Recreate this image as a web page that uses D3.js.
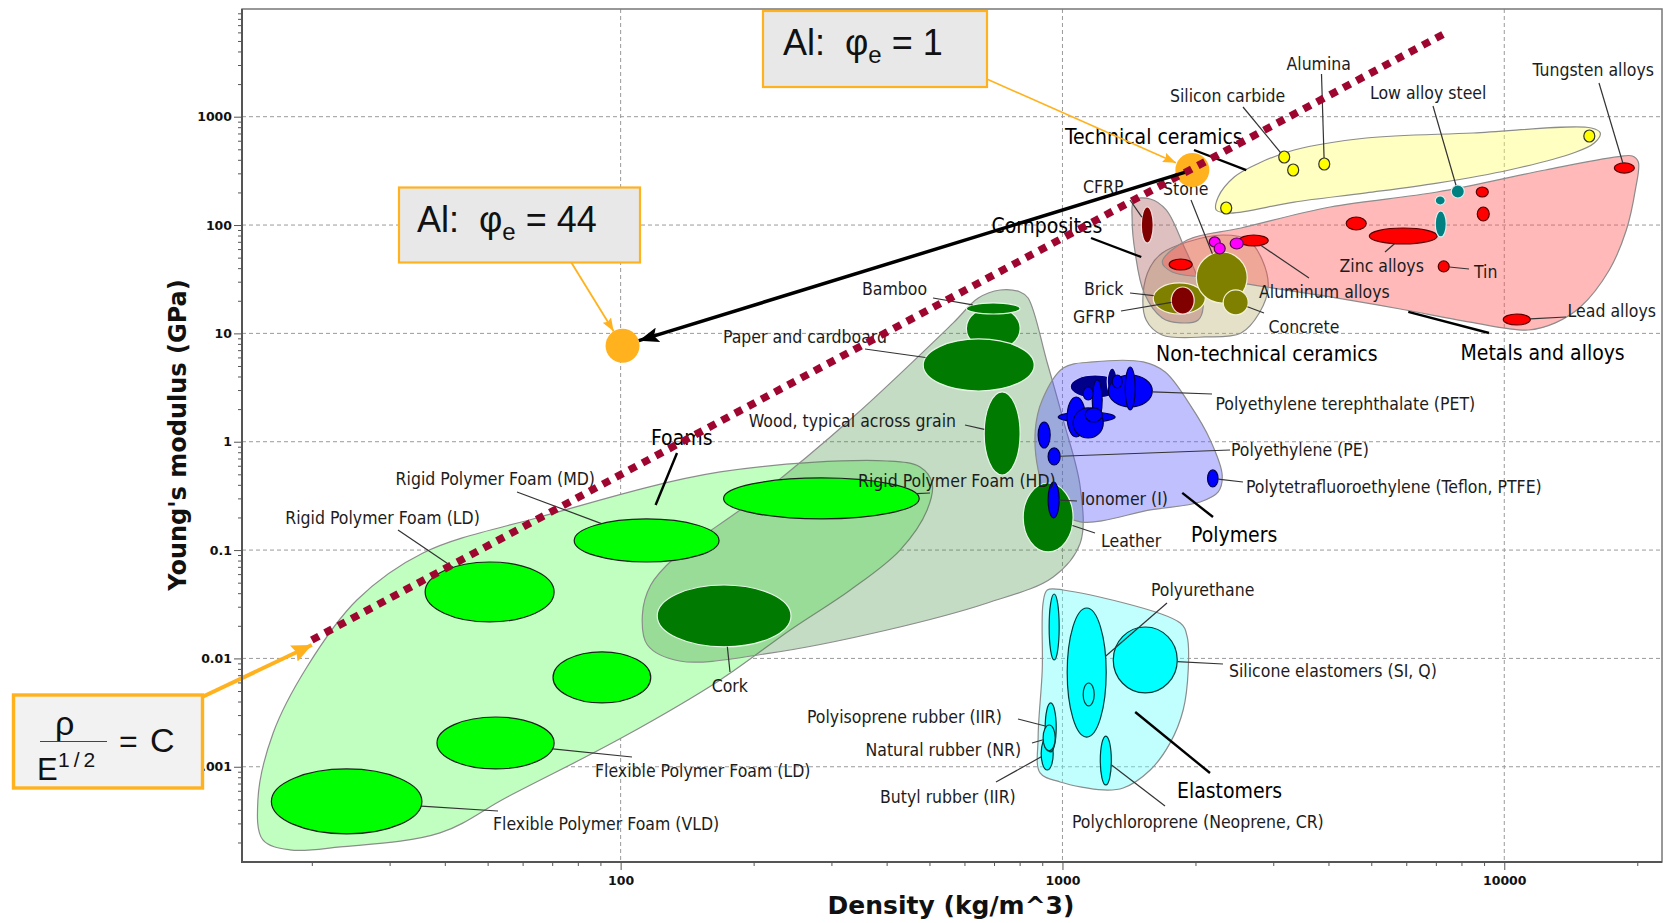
<!DOCTYPE html>
<html>
<head>
<meta charset="utf-8">
<script src="https://cdn.jsdelivr.net/npm/d3@7"></script>
<style>
  body { margin: 0; background: #fff; }
  svg text { white-space: pre; }
</style>
</head>
<body>
<svg id="chart" width="1663" height="923"></svg>
<script>
// ---- axes ----
const xTicks = [100, 1000, 10000];
const xTickLabels = ["100", "1000", "10000"];
const yTicks = [0.001, 0.01, 0.1, 1, 10, 100, 1000];
const yTickLabels = ["0.001", "0.01", "0.1", "1", "10", "100", "1000"];

// ---- property bubbles: density range (kg/m^3), modulus range (GPa) ----
const foams = [
  { name: "Flexible Polymer Foam (VLD)", rho: [16.2, 35.5], E: [2.40e-4, 9.54e-4] },
  { name: "Flexible Polymer Foam (LD)", rho: [38.4, 70.7], E: [9.54e-4, 2.88e-3] },
  { name: "Flexible Polymer Foam (MD)", rho: [70.3, 117], E: [3.88e-3, 0.0115] },
  { name: "Rigid Polymer Foam (LD)", rho: [36.1, 70.7], E: [0.0217, 0.0776] },
  { name: "Rigid Polymer Foam (MD)", rho: [78.5, 167], E: [0.0776, 0.194] },
  { name: "Rigid Polymer Foam (HD)", rho: [171, 474], E: [0.194, 0.463] }
];
const naturals = [
  { name: "Bamboo stem", rho: [606, 802], E: [7.03, 17.5] },
  { name: "Bamboo", rho: [606, 802], E: [15.1, 19.1] },
  { name: "Paper and cardboard", rho: [484, 863], E: [2.94, 8.88] },
  { name: "Wood, typical across grain", rho: [665, 802], E: [0.493, 2.88] },
  { name: "Leather", rho: [815, 1057], E: [0.0961, 0.416] },
  { name: "Cork", rho: [121, 243], E: [0.0128, 0.0476] }
];
const polymers = [
  { name: "Polymer k", rho: [978, 1316], E: [1.52, 1.88] },
  { name: "Polymer a", rho: [1041, 1351], E: [2.53, 4.13] },
  { name: "Polymer d", rho: [1263, 1330], E: [2.70, 4.79] },
  { name: "Polymer h", rho: [1025, 1126], E: [1.106, 2.588] },
  { name: "Polymer i", rho: [1057, 1237], E: [1.083, 2.049] },
  { name: "Polymer g", rho: [1168, 1230], E: [1.588, 3.715] },
  { name: "Polymer f", rho: [1114, 1174], E: [2.428, 3.201] },
  { name: "Polymer j", rho: [1126, 1230], E: [1.521, 2.049] },
  { name: "Polyethylene terephthalate (PET)", rho: [1270, 1597], E: [2.093, 4.131] },
  { name: "Polymer c", rho: [1387, 1461], E: [1.963, 4.896] },
  { name: "Polymer e", rho: [1296, 1365], E: [3.134, 4.131] },
  { name: "Polymer l", rho: [881, 938], E: [0.876, 1.52] },
  { name: "Polyethylene (PE)", rho: [928, 988], E: [0.610, 0.876] },
  { name: "Ionomer (I)", rho: [928, 983], E: [0.198, 0.425] },
  { name: "Polytetrafluoroethylene (Teflon, PTFE)", rho: [2130, 2250], E: [0.382, 0.549] }
];
const darkPolymers = ["Polymer a", "Polymer d"];
const elastomers = [
  { name: "Elastomer a", rho: [933, 983], E: [0.00968, 0.0393] },
  { name: "Polyurethane", rho: [1025, 1256], E: [0.00188, 0.0292] },
  { name: "Elastomer b", rho: [1114, 1180], E: [0.00364, 0.00593] },
  { name: "Silicone elastomers (SI, Q)", rho: [1303, 1819], E: [0.00480, 0.0195] },
  { name: "Butyl rubber (IIR)", rho: [895, 953], E: [0.000934, 0.00188] },
  { name: "Polyisoprene rubber (IIR)", rho: [914, 968], E: [0.00137, 0.00388] },
  { name: "Natural rubber (NR)", rho: [904, 963], E: [0.00140, 0.00243] },
  { name: "Polychloroprene (Neoprene, CR)", rho: [1218, 1290], E: [0.000679, 0.00192] }
];
const nonTechCeramics = [
  { name: "Brick", rho: [1605, 2105], E: [15.1, 29.2] },
  { name: "Stone", rho: [2009, 2619], E: [19.08, 56.4] },
  { name: "Concrete", rho: [2311, 2633], E: [14.8, 25.2] }
];
const composites = [
  { name: "GFRP", rho: [1763, 1987], E: [15.1, 26.8] },
  { name: "CFRP", rho: [1508, 1605], E: [68.3, 146.7] }
];
const metals = [
  { name: "Magnesium alloys", rho: [1744, 1966], E: [38.5, 48.6] },
  { name: "Aluminum alloys", rho: [2512, 2922], E: [64.1, 80.9] },
  { name: "Titanium alloys", rho: [4387, 4871], E: [90.0, 118.6] },
  { name: "Zinc alloys", rho: [4948, 7051], E: [66.9, 93.9] },
  { name: "Tin", rho: [7088, 7506], E: [36.9, 46.6] },
  { name: "Nickel alloys", rho: [8642, 9200], E: [181.5, 224.5] },
  { name: "Copper alloys", rho: [8687, 9247], E: [109, 146.7] },
  { name: "Lead alloys", rho: [9947, 11454], E: [11.95, 15.1] },
  { name: "Tungsten alloys", rho: [17742, 19697], E: [302, 374] }
];
const steels = [
  { name: "Low alloy steel", rho: [7586, 8121], E: [177.7, 234.2] },
  { name: "Cast iron, ductile", rho: [6978, 7350], E: [153.1, 185.4] },
  { name: "Cast iron, gray", rho: [6978, 7390], E: [77.6, 134.8] }
];
const glasses = [
  { name: "Silica glass", rho: [2149, 2275], E: [62.7, 77.6] },
  { name: "Borosilicate glass", rho: [2205, 2335], E: [54.1, 68.3] },
  { name: "Soda-lime glass", rho: [2397, 2566], E: [60.1, 75.9] }
];
const techCeramics = [
  { name: "Silicon", rho: [2281, 2416], E: [126.5, 163.2] },
  { name: "Silicon carbide", rho: [3087, 3268], E: [373.9, 482.4] },
  { name: "Aluminum nitride", rho: [3234, 3425], E: [283.6, 366.0] },
  { name: "Alumina", rho: [3803, 4027], E: [322.2, 415.7] },
  { name: "Tungsten carbides", rho: [15136, 16029], E: [584.1, 753.9] }
];

// ---- family envelopes [density, modulus] ----
const foamEnvelope = [[15.5, 2.11e-4], [15.1, 4.94e-4], [16.35, 2.05e-3], [19.5, 8.34e-3], [25.3, 0.0346], [35.7, 0.094], [65.7, 0.202], [168, 0.526], [401, 0.664], [476, 0.585], [507, 0.416], [494, 0.2345], [429, 0.1], [331, 0.0428], [242, 0.0183], [168, 0.00633], [101.3, 0.00188], [55.4, 5.26e-4], [39.0, 2.45e-4], [23.2, 1.82e-4], [17.85, 1.71e-4]];
const naturalEnvelope = [[723, 25.15], [802, 24.1], [836, 21.2], [924, 5.33], [1004, 1.59], [1097, 0.382], [1097, 0.116], [953, 0.0565], [676, 0.0325], [401, 0.0183], [218, 0.0112], [136, 0.00947], [115, 0.0133], [112, 0.0252], [117, 0.0476], [133, 0.0864], [200, 0.290], [336, 1.69], [566, 12.5], [645, 21.2]];
const polymerEnvelope = [[1004, 4.79], [1174, 5.45], [1523, 5.45], [1708, 4.40], [1946, 2.18], [2160, 1.04], [2299, 0.493], [2252, 0.344], [2050, 0.278], [1580, 0.2345], [1097, 0.182], [938, 0.261], [881, 0.549], [868, 1.28], [900, 2.43]];
const elastomerEnvelope = [[924, 0.0428], [1004, 0.0428], [1848, 0.0212], [1916, 0.0158], [1926, 0.00782], [1876, 0.00334], [1753, 0.00166], [1580, 0.000934], [1372, 0.000637], [1237, 0.000611], [988, 0.000724], [890, 0.000877], [881, 0.00188], [900, 0.00782], [904, 0.0325]];
const nonTechEnvelope = [[1682, 55.2], [1916, 69.8], [2311, 80.9], [2633, 72.8], [2833, 47.6], [2922, 26.8], [2789, 15.4], [2538, 10.1], [2105, 9.27], [1682, 9.67], [1547, 13.3], [1523, 23.6], [1580, 41.0]];
const compositeEnvelope = [[1453, 170], [1580, 174], [1717, 138], [1886, 62.7], [2029, 31.1], [2082, 17.5], [2029, 13.3], [1848, 12.5], [1682, 13.9], [1531, 23.6], [1461, 55.2], [1438, 111]];
const metalEnvelope = [[1682, 45.6], [1916, 72.8], [2538, 93.9], [4037, 146.7], [7051, 201.8], [12381, 322], [17926, 425], [19494, 434], [20109, 382], [19798, 211], [18892, 90], [17285, 38.5], [14863, 17.5], [13046, 12.5], [11333, 10.75], [8375, 12.7], [5815, 16.8], [4037, 21.7], [2891, 26.8], [2160, 32.5], [1772, 36.9]];
const techEnvelope = [[2229, 137.7], [2252, 181.5], [2448, 277.6], [2789, 373.9], [3346, 492.8], [4871, 636], [8508, 707], [15736, 787], [16492, 707], [15985, 572], [14327, 462], [10264, 322], [7051, 244], [4871, 198], [3346, 163], [2397, 129]];

// ---- annotation values ----
const aluminiumPoints = [[1968, 322], [101, 7.70]];   // phi_e = 1, phi_e = 44
const guideLine = [[20.0, 0.0148], [7460, 6088]];     // rho / E^(1/2) = C
const groupTargets = [
  ["Technical ceramics", 2606, 322],
  ["Composites", 1508, 50.7],
  ["Metals and alloys", 6064, 15.8],
  ["Foams", 120, 0.261],
  ["Polymers", 1867, 0.337],
  ["Elastomers", 1461, 0.0032]
];

// ---- label layout (text left, text middle, leader start) ----
const materialLayout = [
  ["Alumina", 1286.5, 63.6, 1321.5, 74],
  ["Silicon carbide", 1170, 95.5, 1243, 107],
  ["Low alloy steel", 1370, 93, 1433, 106],
  ["Tungsten alloys", 1532.5, 70, 1599, 83],
  ["CFRP", 1083, 186.7, 1130, 200],
  ["Stone", 1163, 189, 1191, 200],
  ["Zinc alloys", 1339.5, 266, 1385, 252],
  ["Tin", 1474, 271.5, 1469, 269],
  ["Aluminum alloys", 1259, 291.7, 1309, 278],
  ["Brick", 1084, 288.5, 1130, 293],
  ["GFRP", 1073, 317, 1121, 311],
  ["Concrete", 1268.5, 326.7, 1264, 313],
  ["Lead alloys", 1567.6, 310.8, 1566, 317],
  ["Bamboo", 862, 288.5, 933, 298],
  ["Paper and cardboard", 723, 337, 865, 349],
  ["Wood, typical across grain", 748.8, 421, 965, 425],
  ["Polyethylene terephthalate (PET)", 1215.5, 404, 1212, 394],
  ["Polyethylene (PE)", 1231, 449.7, 1230, 450],
  ["Polytetrafluoroethylene (Teflon, PTFE)", 1246, 486.8, 1243, 482],
  ["Ionomer (I)", 1080.7, 498.5, 1077, 501],
  ["Leather", 1101, 541, 1095, 533],
  ["Rigid Polymer Foam (HD)", 858, 480.4, 930, 493],
  ["Rigid Polymer Foam (MD)", 395.6, 478.3, 517, 492],
  ["Rigid Polymer Foam (LD)", 285.3, 517.6, 398, 530],
  ["Flexible Polymer Foam (LD)", 595, 771, 632, 757],
  ["Flexible Polymer Foam (VLD)", 493, 824, 498, 811],
  ["Cork", 711.7, 686, 730, 672],
  ["Polyurethane", 1151, 589.7, 1167, 603],
  ["Silicone elastomers (SI, Q)", 1229, 670.3, 1223, 664],
  ["Polyisoprene rubber (IIR)", 807, 717, 1018, 719],
  ["Natural rubber (NR)", 865.5, 750, 1032, 743],
  ["Butyl rubber (IIR)", 880, 796.5, 996, 782],
  ["Polychloroprene (Neoprene, CR)", 1072, 822, 1165, 806]
];
const groupLayout = [
  ["Technical ceramics", 1065, 136, 1194, 150],
  ["Composites", 991.6, 225, 1091, 238],
  ["Non-technical ceramics", 1156, 353],
  ["Metals and alloys", 1460.5, 352, 1489, 333],
  ["Foams", 651, 437, 677, 453],
  ["Polymers", 1191, 534.5, 1213, 517],
  ["Elastomers", 1177, 790, 1210, 773]
];

// ================= drawing =================
const svg = d3.select("#chart");
const plot = { left: 242, right: 1662, top: 9, bottom: 862 };
const x = d3.scaleLog().domain([13.9, 22750]).range([plot.left, plot.right]);
const y = d3.scaleLog().domain([1.321e-4, 9863]).range([plot.bottom, plot.top]);
const labelFont = '"DejaVu Sans Condensed","DejaVu Sans",sans-serif';
const orange = "#ffb21e";

const defs = svg.append("defs");
defs.append("clipPath").attr("id", "plotClip").append("rect")
  .attr("x", plot.left).attr("y", plot.top)
  .attr("width", plot.right - plot.left).attr("height", plot.bottom - plot.top);

function marker(id, w, h, color, notch) {
  defs.append("marker").attr("id", id)
    .attr("viewBox", `0 0 ${w} ${h}`).attr("refX", w).attr("refY", h / 2)
    .attr("markerWidth", w).attr("markerHeight", h)
    .attr("markerUnits", "userSpaceOnUse").attr("orient", "auto")
    .append("path")
    .attr("d", `M0,0L${w},${h / 2}L0,${h}L${notch},${h / 2}Z`)
    .attr("fill", color);
}
marker("ahBlack", 20, 15, "#000", 4);
marker("ahOrange", 13, 10, orange, 2);
marker("ahOrangeBig", 20, 18, orange, 3);

// grid
const grid = svg.append("g").attr("stroke", "#9a9a9a").attr("stroke-width", 1).attr("stroke-dasharray", "4,3");
grid.selectAll(null).data(xTicks).join("line")
  .attr("x1", d => x(d)).attr("x2", d => x(d)).attr("y1", plot.top).attr("y2", plot.bottom);
grid.selectAll(null).data(yTicks).join("line")
  .attr("y1", d => y(d)).attr("y2", d => y(d)).attr("x1", plot.left).attr("x2", plot.right);

// envelopes
const envLine = d3.line().x(d => x(d[0])).y(d => y(d[1])).curve(d3.curveCatmullRomClosed.alpha(0.5));
const plotG = svg.append("g").attr("clip-path", "url(#plotClip)");
const envelopes = [
  [foamEnvelope, "#c0ffc0", 1],
  [naturalEnvelope, "#3c8c3c", 0.3],
  [polymerEnvelope, "#5a5aff", 0.38],
  [elastomerEnvelope, "#64ffff", 0.4],
  [nonTechEnvelope, "#b4aa64", 0.35],
  [compositeEnvelope, "#aa5a5a", 0.38],
  [metalEnvelope, "#ff5050", 0.4],
  [techEnvelope, "#ffff64", 0.4]
];
envelopes.forEach(([pts, fill, op]) => {
  plotG.append("path").attr("d", envLine(pts))
    .attr("fill", fill).attr("fill-opacity", op)
    .attr("stroke", "#8c8c8c").attr("stroke-width", 1.2);
});

// ellipses
function geom(d) {
  const x0 = x(d.rho[0]), x1 = x(d.rho[1]), y0 = y(d.E[1]), y1 = y(d.E[0]);
  return { cx: (x0 + x1) / 2, cy: (y0 + y1) / 2, rx: (x1 - x0) / 2, ry: (y1 - y0) / 2 };
}
function bubbles(list, fill, stroke) {
  plotG.append("g").selectAll("ellipse").data(list).join("ellipse")
    .attr("cx", d => geom(d).cx).attr("cy", d => geom(d).cy)
    .attr("rx", d => geom(d).rx).attr("ry", d => geom(d).ry)
    .attr("fill", typeof fill === "function" ? fill : () => fill)
    .attr("stroke", typeof stroke === "function" ? stroke : () => stroke)
    .attr("stroke-width", 1.2);
}
bubbles(foams, "#00ff00", "#1e1e1e");
bubbles(naturals, "#007a00", "#e6f5e6");
bubbles(polymers, d => darkPolymers.includes(d.name) ? "#00008b" : "#0000ff",
  d => darkPolymers.includes(d.name) ? "#d0d0ff" : "#00004a");
bubbles(elastomers, "#00ffff", "#003a3a");
bubbles(nonTechCeramics, "#808000", "#f2f2d8");
bubbles(composites, "#800000", "#f2dede");
bubbles(metals, "#ff0000", "#5a0000");
bubbles(steels, "#008080", "#d8f0f0");
bubbles(glasses, "#ff00ff", "#5a005a");
bubbles(techCeramics, "#ffff00", "#333333");

const byName = new Map();
[foams, naturals, polymers, elastomers, nonTechCeramics, composites, metals, steels, glasses, techCeramics]
  .forEach(list => list.forEach(d => byName.set(d.name, d)));

function edgePoint(d, px, py) {
  const g = geom(d);
  const dx = px - g.cx, dy = py - g.cy;
  const t = 1 / Math.sqrt((dx / g.rx) ** 2 + (dy / g.ry) ** 2);
  return [g.cx + dx * t, g.cy + dy * t];
}

// leader lines + labels
const leaders = svg.append("g").attr("stroke", "#333").attr("stroke-width", 1.2);
materialLayout.forEach(([name, , , lx, ly]) => {
  const [ex, ey] = edgePoint(byName.get(name), lx, ly);
  leaders.append("line").attr("x1", lx).attr("y1", ly).attr("x2", ex).attr("y2", ey);
});
const groupLeaders = svg.append("g").attr("stroke", "#000").attr("stroke-width", 2.4);
groupTargets.forEach(([name, rho, E]) => {
  const lay = groupLayout.find(g => g[0] === name);
  groupLeaders.append("line").attr("x1", lay[3]).attr("y1", lay[4])
    .attr("x2", x(rho)).attr("y2", y(E));
});

const labels = svg.append("g").attr("font-family", labelFont).style("font-stretch", "condensed");
labels.selectAll(null).data(materialLayout).join("text")
  .attr("x", d => d[1]).attr("y", d => d[2] + 6.3)
  .attr("font-size", 17.5).attr("fill", "#1c1c1c")
  .text(d => d[0]);
labels.selectAll(null).data(groupLayout).join("text")
  .attr("x", d => d[1]).attr("y", d => d[2] + 7.6)
  .attr("font-size", 21).attr("fill", "#000")
  .text(d => d[0]);

// aluminium points
svg.append("g").selectAll("circle").data(aluminiumPoints).join("circle")
  .attr("cx", d => x(d[0])).attr("cy", d => y(d[1])).attr("r", 17)
  .attr("fill", orange);

// guide line rho/E^0.5 = C
svg.append("line")
  .attr("x1", x(guideLine[0][0])).attr("y1", y(guideLine[0][1]))
  .attr("x2", x(guideLine[1][0])).attr("y2", y(guideLine[1][1]))
  .attr("stroke", "#9e0630").attr("stroke-width", 7.5).attr("stroke-dasharray", "8,7");

// black arrow from phi=1 to phi=44
const p1 = [x(aluminiumPoints[0][0]), y(aluminiumPoints[0][1])];
const p2 = [x(aluminiumPoints[1][0]), y(aluminiumPoints[1][1])];
{
  const dx = p1[0] - p2[0], dy = p1[1] - p2[1], L = Math.hypot(dx, dy);
  svg.append("line").attr("x1", p1[0] - 8 * dx / L).attr("y1", p1[1] - 8 * dy / L)
    .attr("x2", p2[0] + 17 * dx / L).attr("y2", p2[1] + 17 * dy / L)
    .attr("stroke", "#000").attr("stroke-width", 3.5).attr("marker-end", "url(#ahBlack)");
}

// annotation boxes
function orangeLeader(sx, sy, tx, ty, r, w, m) {
  const dx = tx - sx, dy = ty - sy, L = Math.hypot(dx, dy);
  svg.append("line").attr("x1", sx).attr("y1", sy)
    .attr("x2", tx - r * dx / L).attr("y2", ty - r * dy / L)
    .attr("stroke", orange).attr("stroke-width", w).attr("marker-end", `url(#${m})`);
}
orangeLeader(980, 76, p1[0], p1[1], 18, 1.6, "ahOrange");
orangeLeader(571, 262, p2[0], p2[1], 17, 1.8, "ahOrange");
orangeLeader(200, 698, x(guideLine[0][0]), y(guideLine[0][1]) + 5, 0, 4, "ahOrangeBig");

function phiBox(bx, by, bw, bh, tx, ty, value) {
  svg.append("rect").attr("x", bx).attr("y", by).attr("width", bw).attr("height", bh)
    .attr("fill", "#e8e8e8").attr("stroke", orange).attr("stroke-width", 2.2);
  const t = svg.append("text").attr("x", tx).attr("y", ty)
    .attr("font-family", '"Liberation Sans", Arial, sans-serif').attr("font-size", 36).attr("fill", "#111");
  t.append("tspan").text("Al:  \u03c6");
  t.append("tspan").attr("dy", 8).attr("font-size", 24).text("e");
  t.append("tspan").attr("dy", -8).text(" = " + value);
}
phiBox(763, 11, 224, 76, 783, 55, "1");
phiBox(399, 187.5, 241, 75, 417, 231.7, "44");

// axes
const yMinor = [], xMinor = [];
for (let p = -4; p <= 3; p++) for (let k = 2; k <= 9; k++) {
  const v = k * Math.pow(10, p);
  if (v > y.domain()[0] && v < y.domain()[1]) yMinor.push(v);
}
for (let p = 1; p <= 4; p++) for (let k = 2; k <= 9; k++) {
  const v = k * Math.pow(10, p);
  if (v > x.domain()[0] && v < x.domain()[1]) xMinor.push(v);
}
const tickFont = g => g.selectAll("text").attr("font-family", '"DejaVu Sans", sans-serif')
  .attr("font-weight", "bold").attr("font-size", 12.5).attr("fill", "#111");
const tickStroke = g => { g.selectAll("line").attr("stroke", "#555"); g.select(".domain").remove(); };

svg.append("g").attr("transform", `translate(${plot.left},0)`)
  .call(d3.axisLeft(y).tickValues(yMinor).tickSize(4).tickSizeOuter(0).tickFormat(""))
  .call(tickStroke);
svg.append("g").attr("transform", `translate(${plot.left},0)`)
  .call(d3.axisLeft(y).tickValues(yTicks).tickSize(8).tickSizeOuter(0).tickPadding(2)
    .tickFormat((d, i) => yTickLabels[i]))
  .call(tickStroke).call(tickFont);
svg.append("g").attr("transform", `translate(0,${plot.bottom})`)
  .call(d3.axisBottom(x).tickValues(xMinor).tickSize(4).tickSizeOuter(0).tickFormat(""))
  .call(tickStroke);
svg.append("g").attr("transform", `translate(0,${plot.bottom})`)
  .call(d3.axisBottom(x).tickValues(xTicks).tickSize(8).tickSizeOuter(0).tickPadding(6)
    .tickFormat((d, i) => xTickLabels[i]))
  .call(tickStroke).call(tickFont);

// formula box, drawn over the partly hidden "0.001" label as in the original
svg.append("rect").attr("x", 13.5).attr("y", 695).attr("width", 189).attr("height", 93)
  .attr("fill", "#f2f2f2").attr("stroke", orange).attr("stroke-width", 3.4);
const fg = svg.append("g").attr("font-family", '"Liberation Sans", Arial, sans-serif').attr("fill", "#111");
fg.append("text").attr("x", 55).attr("y", 734.6).attr("font-size", 34).text("\u03c1");
fg.append("line").attr("x1", 40).attr("x2", 107).attr("y1", 741.5).attr("y2", 741.5)
  .attr("stroke", "#444").attr("stroke-width", 1.2);
fg.append("text").attr("x", 37).attr("y", 780).attr("font-size", 31).text("E");
fg.append("text").attr("x", 58).attr("y", 767).attr("font-size", 21).attr("letter-spacing", 4).text("1/2");
fg.append("text").attr("x", 119).attr("y", 752).attr("font-size", 32).text("=");
fg.append("text").attr("x", 150).attr("y", 752).attr("font-size", 34).text("C");

// frame
svg.append("rect").attr("x", plot.left).attr("y", plot.top)
  .attr("width", plot.right - plot.left).attr("height", plot.bottom - plot.top)
  .attr("fill", "none").attr("stroke", "#777").attr("stroke-width", 1.5);
svg.append("path")
  .attr("d", `M${plot.left},${plot.top}V${plot.bottom}H${plot.right}`)
  .attr("fill", "none").attr("stroke", "#555").attr("stroke-width", 2);

// axis titles
svg.append("text").attr("x", 951).attr("y", 914).attr("text-anchor", "middle")
  .attr("font-family", '"DejaVu Sans", sans-serif').attr("font-weight", "bold")
  .attr("font-size", 25).attr("fill", "#111").text("Density (kg/m^3)");
svg.append("text").attr("transform", "translate(186,435) rotate(-90)").attr("text-anchor", "middle")
  .attr("font-family", '"DejaVu Sans", sans-serif').attr("font-weight", "bold")
  .attr("font-size", 24).attr("fill", "#111").text("Young's modulus (GPa)");
</script>
</body>
</html>
